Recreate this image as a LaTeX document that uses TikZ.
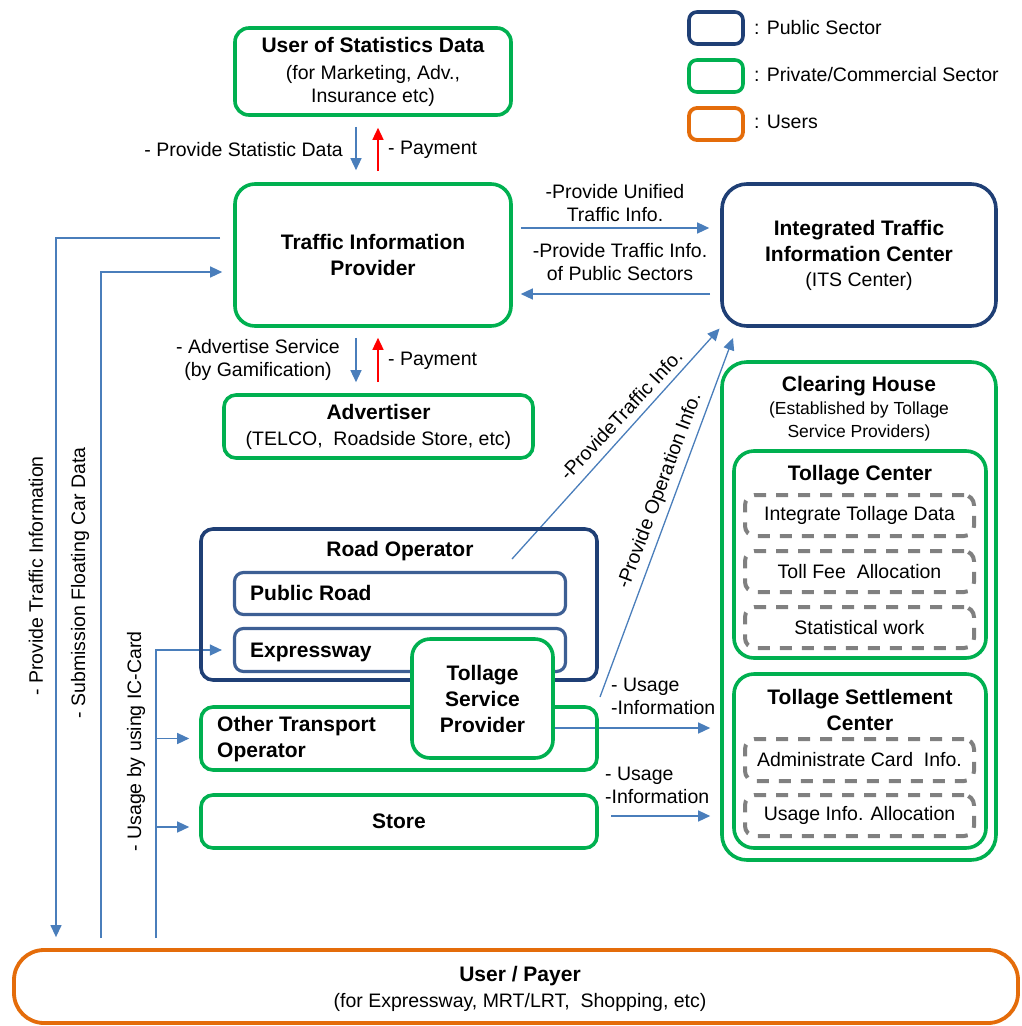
\documentclass[tikz,border=0pt]{standalone}
\usepackage{fontspec}
\setmainfont{Liberation Sans}
\usetikzlibrary{arrows.meta,backgrounds}

\definecolor{privgreen}{HTML}{00B050}
\definecolor{pubnavy}{HTML}{1F3F75}
\definecolor{pubmid}{HTML}{3D5F94}
\definecolor{userorange}{HTML}{E46C0A}
\definecolor{flowblue}{HTML}{4A7EBB}
\definecolor{taskgray}{HTML}{808080}

\newcommand{\diagtitle}{\fontsize{21}{26}\selectfont\bfseries}
\newcommand{\diagbody}{\fontsize{19.5}{23}\selectfont}
\newcommand{\diagnote}{\fontsize{17.5}{22}\selectfont}

\begin{document}
\begin{tikzpicture}[x=1pt,y=-1pt,
  boxbase/.style={inner sep=0pt, align=center, font=\diagbody},
  privbox/.style={boxbase, draw=privgreen, line width=3.6pt, rounded corners=14pt},
  pubbox/.style={boxbase, draw=pubnavy, line width=3.6pt, rounded corners=14pt},
  subbox/.style={boxbase, draw=pubmid, line width=3.2pt, rounded corners=9pt},
  userbox/.style={boxbase, draw=userorange, line width=3.8pt, rounded corners=30pt},
  taskbox/.style={boxbase, draw=taskgray, line width=4pt, dash pattern=on 12pt off 10pt,
                  rounded corners=10pt, minimum width=229pt},
  keybox/.style={rounded corners=8pt, minimum width=54pt, minimum height=32pt},
  lbl/.style={inner sep=0pt, font=\diagbody, align=center},
  hd/.style={inner sep=0pt, font=\diagtitle, align=center},
  flow/.style={draw=flowblue, line width=1.3pt, -{Triangle[length=12pt,width=11pt]}},
  payflow/.style={draw=red, line width=1.4pt, -{Triangle[length=12pt,width=11pt]}},
]
\useasboundingbox (0,0) rectangle (1021,1026);

% ---------- legend ----------
\node[pubbox, keybox] (keypub) at (716,28) {};
\node[privbox, keybox] (keypriv) at (716,76) {};
\node[userbox, keybox] (keyuser) at (716,124) {};
\node[lbl, anchor=west] (keypubtxt) at (754,28) {: Public Sector};
\node[lbl, anchor=west] (keyprivtxt) at (754,75) {: Private/Commercial Sector};
\node[lbl, anchor=west] (keyusertxt) at (754,122) {: Users};

% ---------- upper chain ----------
\node[privbox, minimum width=276pt, minimum height=87pt] (usd) at (373,71.5)
  {{\diagtitle User of Statistics Data}\\[4pt] (for Marketing, Adv.,\\ Insurance etc)};
\node[privbox, rounded corners=20pt, minimum width=276pt, minimum height=142pt, font=\diagtitle] (tip) at (373,255)
  {Traffic Information\\ Provider};
\node[pubbox, rounded corners=25pt, minimum width=274pt, minimum height=142pt] (its) at (859,255)
  {{\diagtitle Integrated Traffic}\\[3pt] {\diagtitle Information Center}\\[2pt] (ITS Center)};
\node[privbox, rounded corners=12pt, minimum width=309pt, minimum height=63pt] (adv) at (378.5,426.5)
  {{\diagtitle Advertiser}\\[3pt] (TELCO,\ \ Roadside Store, etc)};

% ---------- operators ----------
\node[pubbox, rounded corners=12pt, minimum width=396pt, minimum height=151pt] (road) at (399,604.5) {};
\node[hd] (roadtitle) at (400,551) {Road Operator};
\node[subbox, minimum width=331pt, minimum height=42pt] (pubroad) at (400,593.5) {};
\node[hd, anchor=base west] (pubroadtxt) at (250,600.5) {Public Road};
\node[subbox, minimum width=331pt, minimum height=43pt] (expr) at (400,650) {};
\node[hd, anchor=base west] (exprtxt) at (250,657.5) {Expressway};
\node[privbox, rounded corners=12pt, minimum width=396pt, minimum height=63pt] (oto) at (399,738.5) {};
\node[hd, anchor=west, align=left] (ototxt) at (217,739) {Other Transport\\ Operator};
\node[privbox, rounded corners=12pt, minimum width=396pt, minimum height=53pt, font=\diagtitle] (store) at (399,821.5) {Store};
\node[privbox, fill=white, rounded corners=18pt, minimum width=141pt, minimum height=119pt, font=\diagtitle] (tsp) at (482.5,698.5)
  {Tollage\\ Service\\ Provider};

% ---------- clearing house ----------
\node[privbox, rounded corners=25pt, minimum width=274pt, minimum height=498pt] (ch) at (859,611) {};
\node[lbl] (chtitle) at (859,409)
  {{\diagtitle Clearing House}\\ {\diagnote (Established by Tollage}\\ {\diagnote Service Providers)}};
\node[privbox, rounded corners=20pt, minimum width=252pt, minimum height=207pt] (tc) at (860,554.5) {};
\node[hd] (tctitle) at (860,475) {Tollage Center};
\node[taskbox, minimum height=41pt] (d1) at (859.5,515.5) {Integrate Tollage Data};
\node[taskbox, minimum height=41pt] (d2) at (859.5,571.5) {Toll Fee\ \ Allocation};
\node[taskbox, minimum height=41pt] (d3) at (859.5,627.5) {Statistical work};
\node[privbox, rounded corners=20pt, minimum width=252pt, minimum height=174pt] (tsc) at (860,761) {};
\node[hd] (tsctitle) at (860,710) {Tollage Settlement\\ Center};
\node[taskbox, minimum height=42pt] (d4) at (859.5,760) {Administrate Card\ \ Info.};
\node[taskbox, minimum height=41pt] (d5) at (859.5,815.5) {Usage Info. Allocation};

% ---------- users ----------
\node[userbox, minimum width=1004pt, minimum height=73pt] (user) at (516,986.5) {};
\node[lbl] (payer) at (520,989)
  {{\diagtitle User / Payer}\\[3pt] (for Expressway, MRT/LRT,\ \ Shopping, etc)};

% ---------- connector labels ----------
\node[lbl, anchor=east] (statlbl) at (343,150) {- Provide Statistic Data};
\node[lbl, anchor=west] (paylbla) at (388,150) {- Payment};
\node[lbl] (advlbl) at (258,359.5) {- Advertise Service\\ (by Gamification)};
\node[lbl, anchor=west] (paylblb) at (388,361) {- Payment};
\node[lbl] (unifiedlbl) at (615,203.5) {-Provide Unified\\ Traffic Info.};
\node[lbl] (publiclbl) at (620,262.5) {-Provide Traffic Info.\\ of Public Sectors};
\node[lbl, rotate=90] (ptilbl) at (36,576) {- Provide Traffic Information};
\node[lbl, rotate=90] (fcdlbl) at (80,583) {- Submission Floating Car Data};
\node[lbl, rotate=90] (iclbl) at (136,741.5) {- Usage by using IC-Card};
\node[lbl, rotate=47] (rtilbl) at (621,415) {-ProvideTraffic Info.};
\node[lbl, rotate=69.5] (oilbl) at (660,491) {-Provide Operation Info.};
\node[lbl, align=left, anchor=west] (usagelbla) at (611,696.5) {- Usage\\ -Information};
\node[lbl, align=left, anchor=west] (usagelblb) at (605,785) {- Usage\\ -Information};

% ---------- connectors ----------
\coordinate (colA) at (56,0);
\coordinate (colB) at (101,0);
\coordinate (colC) at (156,0);
\coordinate (unifiedrow) at ([yshift=27pt]tip.east);
\coordinate (publicrow) at ([yshift=-39pt]its.west);
\coordinate (storein) at ([yshift=-5.5pt]store.west);
\coordinate (roadsrc) at (512,559);
\coordinate (opsrc) at (600,697);
\coordinate (optgt) at (733,338);
\coordinate (usagerow) at ([yshift=-29.5pt]tsp.east);
\coordinate (storeusage) at (611,816);

\begin{scope}[on background layer]
  % statistics and advertising exchanges
  \draw[flow, shorten <=10pt, shorten >=12pt] ([xshift=-17pt]usd.south) -- ([xshift=-17pt]tip.north);
  \draw[payflow, shorten <=11pt, shorten >=11pt] ([xshift=5pt]tip.north) -- ([xshift=5pt]usd.south);
  \draw[flow, shorten <=10pt, shorten >=11pt] ([xshift=-17pt]tip.south) -- ([xshift=-17pt]tip.south |- adv.north);
  \draw[payflow, shorten <=11pt, shorten >=10pt] ([xshift=5pt]tip.south |- adv.north) -- ([xshift=5pt]tip.south);
  % traffic information exchange with the ITS center
  \draw[flow, shorten <=8pt, shorten >=11pt] (unifiedrow) -- (unifiedrow -| its.west);
  \draw[flow, shorten <=10pt, shorten >=8pt] (publicrow) -- (publicrow -| tip.east);
  % user side
  \draw[flow, shorten <=13pt, shorten >=11pt] ([yshift=17pt]tip.west) -| (user.north -| colA);
  \draw[flow, shorten <=10pt, shorten >=11pt] (user.north -| colB) |- ([yshift=-17pt]tip.west);
  \draw[flow, shorten <=10pt, shorten >=11pt] (user.north -| colC) |- (expr.west);
  \draw[flow, shorten >=10pt] (oto.west -| colC) -- (oto.west);
  \draw[flow, shorten >=10pt] (storein -| colC) -- (storein);
  % road operator and tollage feeds
  \draw[flow, shorten >=1pt] (roadsrc) -- (its.south west);
  \draw[flow] (opsrc) -- (optgt);
  \draw[flow, shorten >=10pt] (usagerow) -- (usagerow -| ch.west);
  \draw[flow, shorten >=10pt] (storeusage) -- (storeusage -| ch.west);
\end{scope}
\end{tikzpicture}
\end{document}
